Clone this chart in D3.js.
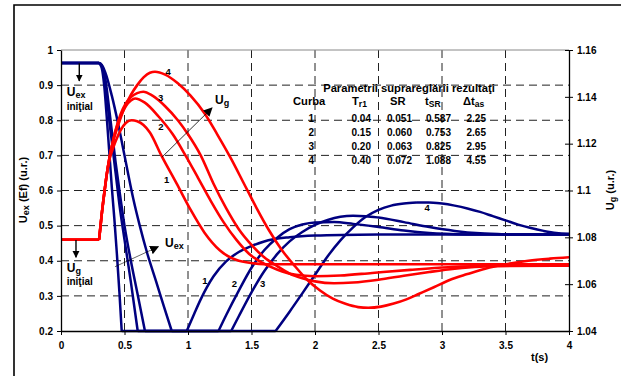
<!DOCTYPE html>
<html lang="ro">
<head>
  <meta charset="UTF-8">
  <title>Uex si Ug - raspuns tranzitoriu</title>
  <script src="https://cdn.jsdelivr.net/npm/d3@7/dist/d3.min.js"></script>
  <style>
    body { margin: 0; background: #fff; }
    text { font-family: 'Liberation Sans', Arial, sans-serif; font-weight: bold; fill: #000; }
  </style>
</head>
<body>
<div id="chart"></div>
<script>
// axis ticks
const timeTicks = [0, 0.5, 1, 1.5, 2, 2.5, 3, 3.5, 4]
const leftTicks = [0.2, 0.3, 0.4, 0.5, 0.6, 0.7, 0.8, 0.9, 1]
const rightTicks = [1.04, 1.06, 1.08, 1.1, 1.12, 1.14, 1.16]

// Uex (left axis), [t, value]
const uex1 = [[0,0.963],[0.3,0.963],[0.32,0.95],[0.34,0.9],[0.36,0.81],[0.38,0.71],[0.40,0.61],[0.42,0.52],[0.44,0.42],[0.46,0.31],[0.478,0.2],
  [0.99,0.2],[1.05,0.25],[1.1,0.29],[1.2,0.355],[1.3,0.398],[1.4,0.425],[1.5,0.442],[1.6,0.455],[1.8,0.467],[2.0,0.472],[2.5,0.475],[4,0.475]]
const uex2 = [[0,0.963],[0.3,0.963],[0.32,0.955],[0.34,0.925],[0.36,0.87],[0.38,0.8],[0.40,0.74],[0.43,0.65],[0.46,0.56],[0.50,0.46],[0.55,0.34],[0.604,0.2],
  [1.24,0.2],[1.3,0.245],[1.4,0.315],[1.5,0.38],[1.6,0.43],[1.7,0.465],[1.8,0.49],[1.9,0.503],[2.0,0.509],[2.15,0.51],[2.3,0.505],[2.5,0.496],[2.7,0.486],[2.9,0.479],[3.2,0.475],[4,0.475]]
const uex3 = [[0,0.963],[0.3,0.963],[0.32,0.957],[0.34,0.935],[0.36,0.89],[0.38,0.83],[0.40,0.77],[0.43,0.68],[0.46,0.6],[0.50,0.5],[0.55,0.4],[0.60,0.31],[0.661,0.2],
  [1.34,0.2],[1.4,0.242],[1.5,0.31],[1.6,0.37],[1.7,0.418],[1.8,0.455],[1.9,0.482],[2.0,0.502],[2.1,0.516],[2.2,0.525],[2.3,0.528],[2.4,0.527],[2.5,0.523],[2.7,0.51],[2.9,0.496],[3.1,0.485],[3.3,0.478],[3.5,0.475],[4,0.475]]
const uex4 = [[0,0.963],[0.3,0.963],[0.32,0.958],[0.35,0.935],[0.40,0.87],[0.45,0.79],[0.50,0.70],[0.53,0.645],[0.57,0.575],[0.62,0.5],[0.68,0.42],[0.75,0.34],[0.81,0.27],[0.872,0.2],
  [1.69,0.2],[1.8,0.255],[1.9,0.307],[2.0,0.36],[2.1,0.413],[2.2,0.458],[2.3,0.495],[2.4,0.525],[2.5,0.545],[2.6,0.557],[2.7,0.563],[2.8,0.566],[2.9,0.566],[3.0,0.563],[3.1,0.557],[3.2,0.549],[3.3,0.539],[3.4,0.527],[3.5,0.515],[3.6,0.503],[3.7,0.493],[3.8,0.485],[3.9,0.479],[4.0,0.477]]

// Ug (right axis), [t, value]
const ug1 = [[0,1.079],[0.3,1.079],[0.32,1.0895],[0.34,1.0985],[0.36,1.1068],[0.38,1.1128],[0.40,1.1165],[0.43,1.121],[0.47,1.1258],[0.51,1.1288],[0.556,1.130],[0.60,1.1296],[0.70,1.1248],
  [0.79,1.115],[0.91,1.103],[1.02,1.0918],[1.13,1.082],[1.25,1.0745],[1.4,1.070],[1.6,1.0685],[1.8,1.0685],[4,1.0685]]
const ug2 = [[0,1.079],[0.3,1.079],[0.32,1.0895],[0.34,1.0985],[0.36,1.1068],[0.38,1.1135],[0.40,1.1188],[0.43,1.1255],[0.47,1.1318],[0.51,1.136],[0.55,1.1384],[0.583,1.1393],[0.66,1.1375],
  [0.77,1.1315],[0.88,1.124],[0.98,1.115],[1.08,1.1053],[1.18,1.0955],[1.28,1.0865],[1.38,1.079],[1.48,1.073],[1.58,1.0693],[1.7,1.0663],[1.85,1.064],[2.0,1.0634],[2.2,1.0637],[2.45,1.0648],[2.75,1.0661],[3.05,1.0672],[3.4,1.0678],[4,1.0679]]
const ug3 = [[0,1.079],[0.3,1.079],[0.32,1.0895],[0.34,1.0985],[0.36,1.1068],[0.38,1.1135],[0.40,1.1188],[0.43,1.1258],[0.47,1.1327],[0.51,1.1372],[0.55,1.1399],[0.60,1.1416],[0.648,1.1422],
  [0.72,1.1405],[0.82,1.136],[0.92,1.130],[1.0,1.124],[1.1,1.115],[1.2,1.103],[1.3,1.0925],[1.4,1.0835],[1.5,1.0768],[1.6,1.0715],[1.7,1.0678],[1.8,1.0645],[1.9,1.0625],[2.0,1.0612],[2.15,1.0604],
  [2.3,1.0607],[2.5,1.0619],[2.7,1.0636],[2.9,1.0652],[3.1,1.0666],[3.3,1.0675],[3.6,1.0679],[4,1.0679]]
const ug4 = [[0,1.079],[0.3,1.079],[0.32,1.0895],[0.34,1.0985],[0.36,1.1068],[0.38,1.1135],[0.40,1.1188],[0.45,1.1278],[0.50,1.1353],[0.55,1.1408],[0.60,1.145],[0.65,1.1483],[0.70,1.1503],[0.74,1.1507],
  [0.82,1.1495],[0.92,1.1458],[1.02,1.1405],[1.13,1.133],[1.23,1.124],[1.34,1.1135],[1.44,1.103],[1.54,1.0925],[1.64,1.0828],[1.74,1.0745],[1.84,1.0678],[1.94,1.0618],[2.04,1.0573],[2.14,1.0538],
  [2.24,1.0516],[2.34,1.0502],[2.42,1.0499],[2.52,1.0504],[2.62,1.0517],[2.72,1.0535],[2.82,1.0559],[2.94,1.0588],[3.06,1.0618],[3.2,1.0643],[3.34,1.0666],[3.5,1.0685],[3.68,1.07],[3.85,1.0709],[4.0,1.0715]]

// table
const curbe = [1, 2, 3, 4]
const tr1 = [0.04, 0.15, 0.20, 0.40]
const sr = [0.051, 0.060, 0.063, 0.072]
const tsr = [0.587, 0.753, 0.825, 1.088]
const dtas = [2.25, 2.65, 2.95, 4.55]

const W = 621, H = 376
const svg = d3.select('#chart').append('svg').attr('width', W).attr('height', H)
svg.append('rect').attr('width', W).attr('height', H).attr('fill', '#fff')

const x = d3.scaleLinear().domain([0, 4]).range([61, 569])
const yL = d3.scaleLinear().domain([0.2, 1]).range([331, 50])
const yR = d3.scaleLinear().domain([1.04, 1.16]).range([331, 50])

// outer frame
svg.append('path').attr('d', 'M14,376V5H621').attr('fill', 'none').attr('stroke', '#000').attr('stroke-width', 1.6)

// grid
const grid = svg.append('g')
grid.selectAll('.gh').data(leftTicks.filter(v => v > 0.2 && v < 1)).enter().append('line')
  .attr('x1', x(0)).attr('x2', x(4)).attr('y1', d => yL(d)).attr('y2', d => yL(d))
  .attr('stroke', '#222').attr('stroke-dasharray', '8,5')
grid.selectAll('.gv').data(timeTicks.filter(t => t > 0 && t < 4)).enter().append('line')
  .attr('y1', yL(1)).attr('y2', yL(0.2)).attr('x1', d => x(d)).attr('x2', d => x(d))
  .attr('stroke', '#222').attr('stroke-dasharray', '8,5')
grid.append('line').attr('x1', x(0)).attr('x2', x(4)).attr('y1', yL(1)).attr('y2', yL(1))
  .attr('stroke', '#888')

// curves: split at flat runs so corners stay sharp
function pathOf(pts, yScale) {
  const line = d3.line().x(d => x(d[0])).y(d => yScale(d[1])).curve(d3.curveMonotoneX)
  const segs = []
  let cur = [pts[0]]
  let flat = pts[1][1] === pts[0][1]
  for (let i = 1; i < pts.length; i++) {
    const f = pts[i][1] === pts[i - 1][1]
    if (f !== flat) { segs.push(cur); cur = [pts[i - 1]]; flat = f }
    cur.push(pts[i])
  }
  segs.push(cur)
  return segs.map(s => line(s)).join('')
}

const plot = svg.append('g')
;[uex1, uex2, uex3, uex4].forEach(s => {
  plot.append('path').attr('d', pathOf(s, yL)).attr('fill', 'none')
    .attr('stroke', '#000080').attr('stroke-width', 2.5).attr('stroke-linejoin', 'round')
})
;[ug1, ug2, ug3, ug4].forEach(s => {
  plot.append('path').attr('d', pathOf(s, yR)).attr('fill', 'none')
    .attr('stroke', '#ff0000').attr('stroke-width', 2.6).attr('stroke-linejoin', 'round')
})

// axes
const fmt = d3.format('~g')
const axB = svg.append('g').attr('transform', `translate(0,${yL(0.2)})`)
  .call(d3.axisBottom(x).tickValues(timeTicks).tickSize(4).tickSizeOuter(0).tickPadding(7).tickFormat(fmt))
const axL = svg.append('g').attr('transform', `translate(${x(0)},0)`)
  .call(d3.axisLeft(yL).tickValues(leftTicks).tickSize(4).tickSizeOuter(0).tickPadding(4).tickFormat(fmt))
const axR = svg.append('g').attr('transform', `translate(${x(4)},0)`)
  .call(d3.axisRight(yR).tickValues(rightTicks).tickSize(4).tickSizeOuter(0).tickPadding(4).tickFormat(fmt))
axR.selectAll('.tick line').attr('x1', -4)
;[axB, axL, axR].forEach(a => {
  a.selectAll('text').attr('font-size', 10).attr('font-family', "'Liberation Sans', Arial, sans-serif").attr('font-weight', 'bold').attr('fill', '#000')
  a.select('.domain').attr('stroke', '#000').attr('stroke-width', 1.3)
  a.selectAll('.tick line').attr('stroke', '#000')
})

// axis titles
const ttlL = svg.append('text').attr('transform', 'translate(27,190) rotate(-90)').attr('text-anchor', 'middle').attr('font-size', 11)
ttlL.append('tspan').text('U')
ttlL.append('tspan').attr('font-size', 9).attr('dy', 2).text('ex')
ttlL.append('tspan').attr('dy', -2).text(' (Ef) (u.r.)')
const ttlR = svg.append('text').attr('transform', 'translate(614,190) rotate(-90)').attr('text-anchor', 'middle').attr('font-size', 11)
ttlR.append('tspan').text('U')
ttlR.append('tspan').attr('font-size', 9).attr('dy', 2).text('g')
ttlR.append('tspan').attr('dy', -2).text(' (u.r.)')
svg.append('text').attr('x', 531).attr('y', 361).attr('font-size', 11).text('t(s)')

// curve numbers
const redNums = [[0.843, 0.94, '4'], [0.785, 0.865, '3'], [0.787, 0.781, '2'], [0.832, 0.63, '1']]
const blueNums = [[1.134, 0.345, '1'], [1.365, 0.334, '2'], [1.588, 0.334, '3'], [2.884, 0.552, '4']]
svg.selectAll('.num').data(redNums.concat(blueNums)).enter().append('text')
  .attr('x', d => x(d[0])).attr('y', d => yL(d[1]) + 3.5).attr('text-anchor', 'middle')
  .attr('font-size', 9.5).text(d => d[2])

// arrows
const defs = svg.append('defs')
defs.append('marker').attr('id', 'ah').attr('viewBox', '0 0 10 10').attr('refX', 9).attr('refY', 5)
  .attr('markerWidth', 9).attr('markerHeight', 9).attr('markerUnits', 'userSpaceOnUse').attr('orient', 'auto')
  .append('path').attr('d', 'M0,0L10,5L0,10z').attr('fill', '#000')
defs.append('marker').attr('id', 'ah2').attr('viewBox', '0 0 10 10').attr('refX', 9).attr('refY', 5)
  .attr('markerWidth', 7).attr('markerHeight', 9).attr('markerUnits', 'userSpaceOnUse').attr('orient', 'auto')
  .append('path').attr('d', 'M0,0L10,5L0,10z').attr('fill', '#000')

function arrow(t1, v1, t2, v2, w, m) {
  svg.append('line').attr('x1', x(t1)).attr('y1', yL(v1)).attr('x2', x(t2)).attr('y2', yL(v2))
    .attr('stroke', '#000').attr('stroke-width', w).attr('marker-end', `url(#${m})`)
}
arrow(0.795, 0.695, 1.189, 0.835, 0.8, 'ah')
arrow(0.425, 0.383, 0.766, 0.44, 0.6, 'ah')
arrow(0.144, 0.962, 0.144, 0.912, 1.4, 'ah2')
arrow(0.118, 0.459, 0.118, 0.41, 1.4, 'ah2')

// U labels
function uLabel(t, v, s) {
  const tx = svg.append('text').attr('x', x(t)).attr('y', yL(v) + 4).attr('font-size', 12)
  tx.append('tspan').text('U')
  tx.append('tspan').attr('font-size', 9).attr('dy', 2).text(s)
}
uLabel(1.213, 0.858, 'g')
uLabel(0.819, 0.451, 'ex')
uLabel(0.045, 0.881, 'ex')
uLabel(0.045, 0.378, 'g')
svg.append('text').attr('x', x(0.045)).attr('y', yL(0.84) + 3.5).attr('font-size', 10).text('iniţial')
svg.append('text').attr('x', x(0.045)).attr('y', yL(0.34) + 3.5).attr('font-size', 10).text('iniţial')

// parameter table
const tb = svg.append('g').attr('font-size', 10)
tb.append('text').attr('x', 409).attr('y', 92).attr('text-anchor', 'middle').attr('font-size', 11.2)
  .text('Parametrii suprareglării rezultaţi')
tb.append('text').attr('x', 293).attr('y', 105).attr('font-size', 11.2).text('Curba')
const h1 = tb.append('text').attr('x', 352).attr('y', 105).attr('font-size', 11.2)
h1.append('tspan').text('T'); h1.append('tspan').attr('font-size', 8.5).attr('dy', 2).text('r1')
tb.append('text').attr('x', 390).attr('y', 105).attr('font-size', 11.2).text('SR')
const h3 = tb.append('text').attr('x', 425).attr('y', 105).attr('font-size', 11.2)
h3.append('tspan').text('t'); h3.append('tspan').attr('font-size', 8.5).attr('dy', 2).text('SR')
const h4 = tb.append('text').attr('x', 463).attr('y', 105).attr('font-size', 11.2)
h4.append('tspan').text('Δt'); h4.append('tspan').attr('font-size', 8.5).attr('dy', 2).text('as')

const rowY = [121.5, 136, 149.5, 163.5]
const cols = [
  { xr: 314, vals: curbe, f: d => String(d) },
  { xr: 371, vals: tr1, f: d3.format('.2f') },
  { xr: 412, vals: sr, f: d3.format('.3f') },
  { xr: 451, vals: tsr, f: d3.format('.3f') },
  { xr: 486, vals: dtas, f: d3.format('.2f') }
]
cols.forEach(c => {
  tb.selectAll(null).data(c.vals).enter().append('text')
    .attr('x', c.xr).attr('y', (d, i) => rowY[i]).attr('text-anchor', 'end').text(c.f)
})
</script>
</body>
</html>
